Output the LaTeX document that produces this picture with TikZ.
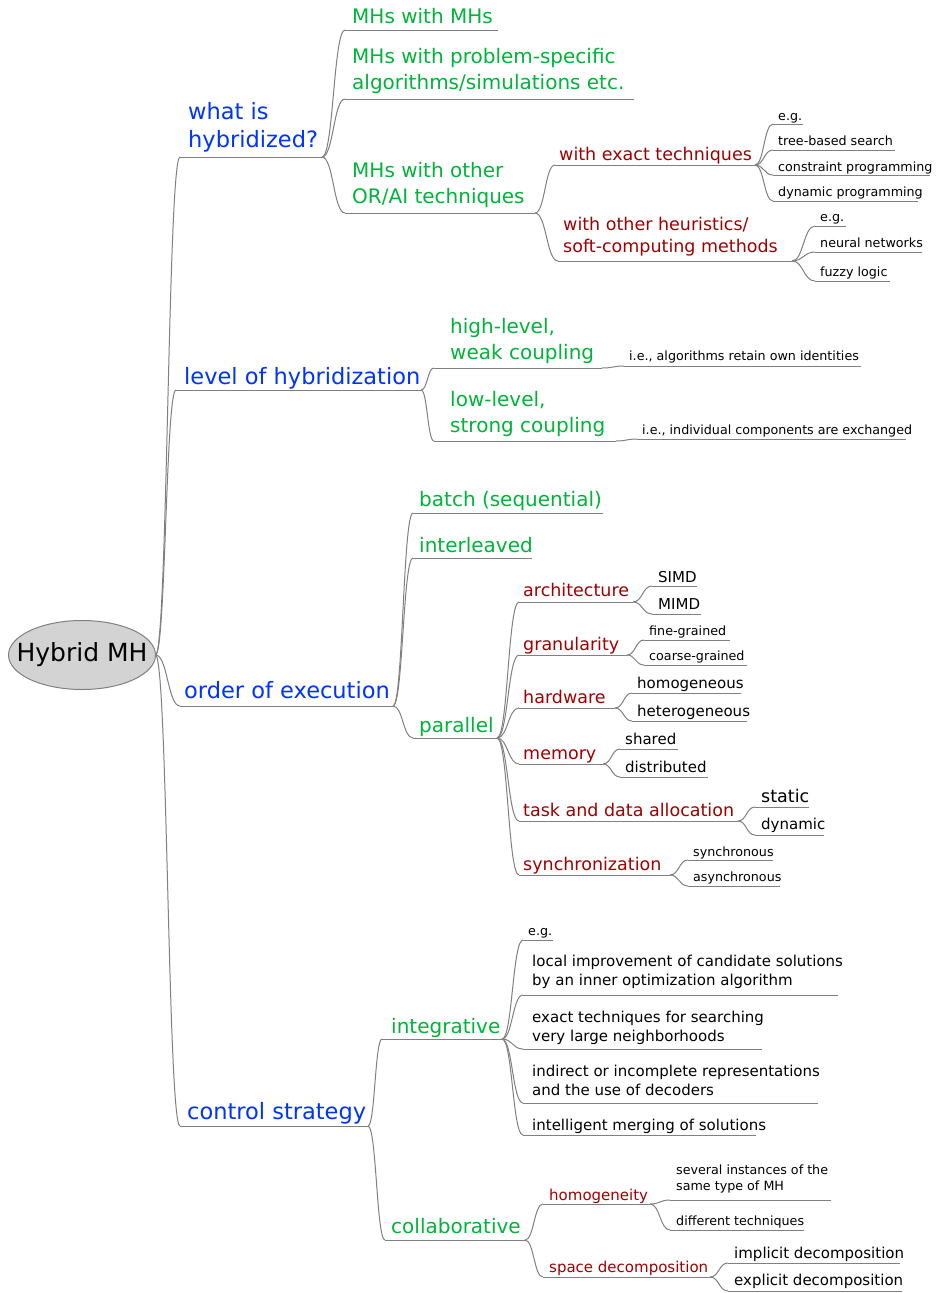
\documentclass[tikz,border=0pt]{standalone}
\usepackage{fontspec}
\setmainfont{DejaVu Sans}
\usetikzlibrary{calc}
\definecolor{mmblue}{HTML}{0033FF}
\definecolor{mmgreen}{HTML}{00B439}
\definecolor{mmred}{HTML}{A00000}
\definecolor{mmgray}{HTML}{808080}
\definecolor{rootfill}{HTML}{D3D3D3}
\tikzset{
 edge/.style={draw=mmgray, line width=1pt},
 mmtext/.style={inner sep=0pt, anchor=base west, align=left},
 lvblue/.style={mmtext, text=mmblue, font=\fontsize{22.5}{28}\selectfont},
 lvgreen/.style={mmtext, text=mmgreen, font=\fontsize{20}{26}\selectfont},
 lvred/.style={mmtext, text=mmred, font=\fontsize{17.5}{22}\selectfont},
 lvredm/.style={mmtext, text=mmred, font=\fontsize{15}{18.5}\selectfont},
 leafs/.style={mmtext, text=black, font=\fontsize{12.7}{16}\selectfont},
 leafm/.style={mmtext, text=black, font=\fontsize{15}{18.3}\selectfont},
 leafl/.style={mmtext, text=black, font=\fontsize{17.5}{22}\selectfont},
}
% name, style, text x, baseline, underline y, underline left, underline right, text
\newcommand\mmnode[8]{%
  \node[#2] (#1) at (#3,#4) {#8};
  \coordinate (#1-l) at (#6,#5);
  \coordinate (#1-r) at (#7,#5);
  \draw[edge] (#1-l) -- (#1-r);}
\newcommand\mmlink[2]{\draw[edge] let \p1=(#1-r), \p2=(#2-l) in (\p1) .. controls ({0.5*\x1+0.5*\x2},\y1) and ({0.5*\x1+0.5*\x2},\y2) .. (\p2);}
\begin{document}
\begin{tikzpicture}[x=1pt,y=-1pt]
\useasboundingbox (0,0) rectangle (935,1293);
% root
\coordinate (root-c) at (82,655);
\draw[draw=mmgray, fill=rootfill, line width=1pt] (root-c) ellipse [x radius=73.5, y radius=34.5];
\node[inner sep=0pt, font=\fontsize{25}{30}\selectfont] (root) at (root-c) {Hybrid MH};
\coordinate (root-r) at (155.5,655);
% level 1
\mmnode{b1}{lvblue}{188}{147}{157}{180}{322}{what is\\hybridized?}
\mmnode{b2}{lvblue}{184}{384}{390}{176}{421}{level of hybridization}
\mmnode{b3}{lvblue}{184}{698}{706}{180}{393}{order of execution}
\mmnode{b4}{lvblue}{187}{1119}{1126}{180}{368}{control strategy}
% what is hybridized
\mmnode{g1}{lvgreen}{352}{23}{30}{345}{498}{MHs with MHs}
\mmnode{g2}{lvgreen}{352}{89}{99}{345}{634}{MHs with problem-specific\\algorithms/simulations etc.}
\mmnode{g3}{lvgreen}{352}{203}{213}{345}{535}{MHs with other\\OR/AI techniques}
\mmnode{r1}{lvred}{559}{160}{165}{555}{755}{with exact techniques}
\mmnode{r2}{lvred}{563}{252}{261}{558}{792}{with other heuristics/\\soft-computing methods}
\mmnode{l11}{leafs}{778}{120}{124}{773}{803}{e.g.}
\mmnode{l12}{leafs}{778}{145}{150}{773}{895}{tree-based search}
\mmnode{l13}{leafs}{778}{171}{175}{773}{930}{constraint programming}
\mmnode{l14}{leafs}{778}{196}{201}{773}{918}{dynamic programming}
\mmnode{l21}{leafs}{820}{221}{226}{815}{846}{e.g.}
\mmnode{l22}{leafs}{820}{247}{252}{815}{922}{neural networks}
\mmnode{l23}{leafs}{820}{276}{281}{815}{890}{fuzzy logic}
% level of hybridization
\mmnode{g4}{lvgreen}{450}{359}{368}{434}{602}{high-level,\\weak coupling}
\mmnode{l41}{leafs}{629}{360}{366}{624}{861}{i.e., algorithms retain own identities}
\mmnode{g5}{lvgreen}{450}{432}{441}{434}{616}{low-level,\\strong coupling}
\mmnode{l51}{leafs}{642}{434}{439}{637}{906}{i.e., individual components are exchanged}
% order of execution
\mmnode{g6}{lvgreen}{419}{506}{513}{413}{603}{batch (sequential)}
\mmnode{g7}{lvgreen}{419}{552}{558}{413}{532}{interleaved}
\mmnode{g8}{lvgreen}{419}{732}{738}{413}{497}{parallel}
\mmnode{p1}{lvred}{523}{596}{602}{519}{633}{architecture}
\mmnode{p11}{leafm}{658}{582}{586}{652}{697}{SIMD}
\mmnode{p12}{leafm}{658}{609}{614}{652}{701}{MIMD}
\mmnode{p2}{lvred}{523}{650}{655}{519}{627}{granularity}
\mmnode{p21}{leafs}{649}{635}{640}{644}{730}{fine-grained}
\mmnode{p22}{leafs}{649}{660}{665}{644}{747}{coarse-grained}
\mmnode{p3}{lvred}{523}{703}{708}{519}{615}{hardware}
\mmnode{p31}{leafm}{637}{688}{693}{632}{741}{homogeneous}
\mmnode{p32}{leafm}{637}{716}{721}{632}{747}{heterogeneous}
\mmnode{p4}{lvred}{523}{759}{764}{519}{603}{memory}
\mmnode{p41}{leafm}{625}{744}{749}{620}{678}{shared}
\mmnode{p42}{leafm}{625}{772}{777}{620}{708}{distributed}
\mmnode{p5}{lvred}{523}{816}{821}{519}{738}{task and data allocation}
\mmnode{p51}{leafl}{761}{802}{807}{755}{809}{static}
\mmnode{p52}{leafm}{761}{829}{835}{755}{824}{dynamic}
\mmnode{p6}{lvred}{523}{870}{875}{519}{670}{synchronization}
\mmnode{p61}{leafs}{693}{856}{860}{688}{773}{synchronous}
\mmnode{p62}{leafs}{693}{881}{886}{688}{780}{asynchronous}
% control strategy
\mmnode{g9}{lvgreen}{391}{1033}{1039}{382}{502}{integrative}
\mmnode{i1}{leafs}{528}{935}{940}{523}{553}{e.g.}
\mmnode{i2}{leafm}{532}{985}{995}{523}{838}{local improvement of candidate solutions\\by an inner optimization algorithm}
\mmnode{i3}{leafm}{532}{1041}{1049}{523}{762}{exact techniques for searching\\very large neighborhoods}
\mmnode{i4}{leafm}{532}{1095}{1103}{523}{818}{indirect or incomplete representations\\and the use of decoders}
\mmnode{i5}{leafm}{532}{1130}{1135}{523}{756}{intelligent merging of solutions}
\mmnode{g10}{lvgreen}{391}{1233}{1240}{385}{525}{collaborative}
\mmnode{c1}{lvredm}{549}{1200}{1204}{543}{650}{homogeneity}
\mmnode{c11}{leafs}{676}{1190}{1200}{670}{831}{several instances of the\\same type of MH}
\mmnode{c12}{leafs}{676}{1225}{1230}{670}{804}{different techniques}
\mmnode{c2}{lvredm}{549}{1272}{1277}{543}{710}{space decomposition}
\mmnode{c21}{leafm}{734}{1258}{1263}{728}{900}{implicit decomposition}
\mmnode{c22}{leafm}{734}{1285}{1291}{728}{902}{explicit decomposition}
% connectors
\foreach \c in {b1,b2,b3,b4} {\mmlink{root}{\c}}
\foreach \c in {g1,g2,g3} {\mmlink{b1}{\c}}
\foreach \c in {r1,r2} {\mmlink{g3}{\c}}
\foreach \c in {l11,l12,l13,l14} {\mmlink{r1}{\c}}
\foreach \c in {l21,l22,l23} {\mmlink{r2}{\c}}
\foreach \c in {g4,g5} {\mmlink{b2}{\c}}
\mmlink{g4}{l41}
\mmlink{g5}{l51}
\foreach \c in {g6,g7,g8} {\mmlink{b3}{\c}}
\foreach \c in {p1,p2,p3,p4,p5,p6} {\mmlink{g8}{\c}}
\foreach \c in {p11,p12} {\mmlink{p1}{\c}}
\foreach \c in {p21,p22} {\mmlink{p2}{\c}}
\foreach \c in {p31,p32} {\mmlink{p3}{\c}}
\foreach \c in {p41,p42} {\mmlink{p4}{\c}}
\foreach \c in {p51,p52} {\mmlink{p5}{\c}}
\foreach \c in {p61,p62} {\mmlink{p6}{\c}}
\foreach \c in {g9,g10} {\mmlink{b4}{\c}}
\foreach \c in {i1,i2,i3,i4,i5} {\mmlink{g9}{\c}}
\foreach \c in {c1,c2} {\mmlink{g10}{\c}}
\foreach \c in {c11,c12} {\mmlink{c1}{\c}}
\foreach \c in {c21,c22} {\mmlink{c2}{\c}}
\end{tikzpicture}
\end{document}
